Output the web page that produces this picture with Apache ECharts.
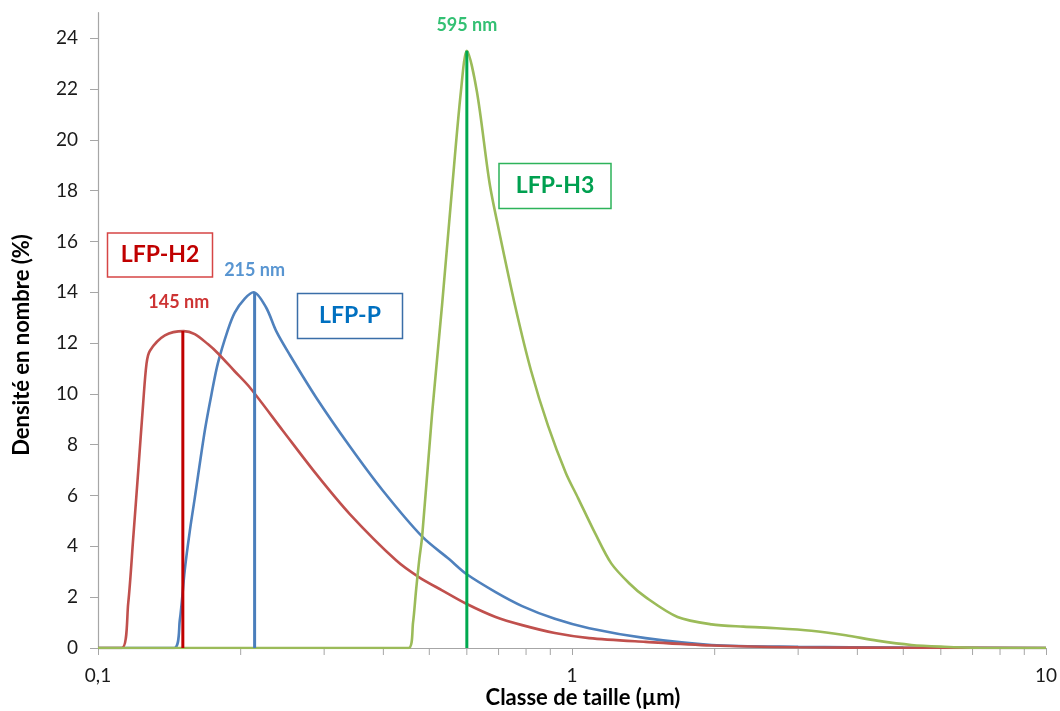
<!DOCTYPE html>
<html>
<head>
<meta charset="utf-8">
<script src="https://cdn.jsdelivr.net/npm/echarts@6/dist/echarts.min.js"></script>
<style>
html,body{margin:0;padding:0;background:#fff;}
#chart{width:1060px;height:711px;}
</style>
</head>
<body>
<div id="chart"></div>
<script>
// ---- data ----
const h2Sizes  = [0.1, 0.1122, 0.1158, 0.1187, 0.1216, 0.1245, 0.1266, 0.1287, 0.1384, 0.1517, 0.160, 0.1705, 0.179, 0.194, 0.2091, 0.2455, 0.2885, 0.3394, 0.4254, 0.476, 0.532, 0.60, 0.69, 0.785, 0.92, 1.087, 1.43, 1.97, 3, 5, 10];
const h2Values = [0, 0, 1.76, 4.36, 6.98, 9.6, 11.2, 11.7, 12.3, 12.47, 12.35, 11.96, 11.6, 10.9, 10.25, 8.55, 6.85, 5.28, 3.45, 2.78, 2.27, 1.73, 1.22, 0.9, 0.59, 0.39, 0.24, 0.1, 0.03, 0.01, 0];

const pSizes  = [0.1, 0.1447, 0.1488, 0.1524, 0.1562, 0.160, 0.168, 0.1736, 0.179, 0.1878, 0.1943, 0.204, 0.213, 0.2263, 0.2377, 0.2536, 0.2885, 0.3394, 0.3988, 0.4838, 0.5503, 0.60, 0.69, 0.785, 0.92, 1.087, 1.43, 1.97, 3, 5, 10];
const pValues = [0, 0, 1.1, 3.06, 4.6, 5.9, 8.55, 10.0, 11.2, 12.5, 13.2, 13.75, 14.0, 13.4, 12.47, 11.55, 9.86, 7.95, 6.2, 4.37, 3.5, 2.9, 2.2, 1.65, 1.15, 0.78, 0.39, 0.12, 0.05, 0.02, 0];

const h3Sizes  = [0.1, 0.452, 0.462, 0.469, 0.476, 0.483, 0.5067, 0.532, 0.558, 0.583, 0.60, 0.63, 0.67, 0.70, 0.76, 0.82, 0.89, 0.97, 1.03, 1.12, 1.21, 1.32, 1.43, 1.67, 1.97, 2.3, 2.7, 3.2, 3.78, 4.4, 5.2, 6.1, 7.2, 10];
const h3Values = [0, 0, 1.0, 2.3, 3.45, 4.4, 9.2, 13.5, 18.0, 21.9, 23.5, 21.9, 18.3, 16.5, 13.4, 10.9, 8.75, 6.9, 5.9, 4.5, 3.33, 2.55, 2.0, 1.22, 0.93, 0.84, 0.78, 0.68, 0.5, 0.29, 0.12, 0.05, 0.01, 0];

const peakSizes   = [0.151, 0.214, 0.60];
const peakHeights = [12.47, 14.0, 23.5];
const peakLabels  = ['145 nm', '215 nm', '595 nm'];

const seriesNames = ['LFP-H2', 'LFP-P', 'LFP-H3'];
const minorTickValues = [0.2,0.3,0.4,0.5,0.6,0.7,0.8,0.9,2,3,4,5,6,7,8,9];
const yTicks = {min: 0, max: 25, interval: 2};

// ---- styles ----
const curveColors = ['#C0504D', '#4F81BD', '#9BBB59'];
const peakColors  = ['#C00000', '#4A7EBB', '#00A94F'];
const labelColors = ['#C00000', '#2E7BC6', '#00B050'];
const boxText     = ['#C00000', '#0070C0', '#00A050'];
const boxBorder   = ['#D64545', '#3A6EA8', '#2DB35A'];
const FONT = 'Lato, "Open Sans", sans-serif';

const zip = (a, b) => a.map((v, i) => [v, b[i]]);

const chart = echarts.init(document.getElementById('chart'));

const curves = [
  {name: seriesNames[1], data: zip(pSizes, pValues), color: curveColors[1], z: 2},
  {name: seriesNames[0], data: zip(h2Sizes, h2Values), color: curveColors[0], z: 3},
  {name: seriesNames[2], data: zip(h3Sizes, h3Values), color: curveColors[2], z: 4}
].map(c => ({
  type: 'line', name: c.name, data: c.data, smooth: 0.3,
  symbol: 'none', z: c.z, silent: true,
  lineStyle: {color: c.color, width: 2.6}
}));

const peakLines = peakSizes.map((s, i) => ({
  type: 'line', name: peakLabels[i], data: [[s, 0], [s, peakHeights[i]]],
  symbol: 'none', z: 6, silent: true,
  lineStyle: {color: peakColors[i], width: 3}
}));

const peakLabelSeries = {
  type: 'scatter', z: 7, silent: true, symbolSize: 1,
  itemStyle: {color: 'transparent'},
  data: peakSizes.map((s, i) => ({
    value: [s, peakHeights[i]],
    label: {
      show: true, position: 'top', formatter: peakLabels[i],
      distance: [19, 13, 16][i], offset: i === 0 ? [-4, 0] : [0, 0],
      color: labelColors[i], fontFamily: FONT, fontWeight: 'bold', fontSize: 18
    }
  }))
};

const minorTicks = {
  type: 'custom', z: 1, silent: true, clip: false,
  data: minorTickValues.map(v => [v, 0]),
  renderItem: function (params, api) {
    const p = api.coord([api.value(0), 0]);
    return {type: 'line', shape: {x1: p[0], y1: p[1], x2: p[0], y2: p[1] + 7},
            style: {stroke: '#A6A6A6', lineWidth: 1}};
  }
};

const boxes = [
  {text: seriesNames[0], cx: 160, cy: 255, w: 105, h: 44},
  {text: seriesNames[1], cx: 350, cy: 316, w: 105, h: 45},
  {text: seriesNames[2], cx: 555, cy: 186, w: 112, h: 45}
];
const graphics = [];
boxes.forEach((b, i) => {
  graphics.push({type: 'rect', z: 10, shape: {x: b.cx - b.w / 2, y: b.cy - b.h / 2, width: b.w, height: b.h},
    style: {fill: '#fff', stroke: boxBorder[i], lineWidth: 1.5}});
  graphics.push({type: 'text', z: 11, x: b.cx, y: b.cy,
    style: {text: b.text, fill: boxText[i], font: 'bold 23px ' + FONT, align: 'center', verticalAlign: 'middle'}});
});
graphics.push({type: 'text', x: 22, y: 345, rotation: Math.PI / 2,
  style: {text: 'Densité en nombre (%)', fill: '#000', font: 'bold 22px ' + FONT, align: 'center', verticalAlign: 'middle'}});
graphics.push({type: 'text', x: 583, y: 698,
  style: {text: 'Classe de taille (µm)', fill: '#000', font: 'bold 22px ' + FONT, align: 'center', verticalAlign: 'middle'}});

chart.setOption({
  animation: false,
  backgroundColor: '#fff',
  grid: {left: 98, right: 12, top: 12.7, bottom: 63, containLabel: false},
  xAxis: {
    type: 'log', logBase: 10, min: 0.1, max: 10,
    axisLine: {show: true, lineStyle: {color: '#A6A6A6', width: 1.2}},
    axisTick: {show: true, length: 7, inside: false, lineStyle: {color: '#A6A6A6'}},
    minorTick: {show: false},
    splitLine: {show: false},
    axisLabel: {margin: 18, color: '#1a1a1a', fontFamily: FONT, fontSize: 19,
      formatter: v => String(+v.toPrecision(6)).replace('.', ',')}
  },
  yAxis: {
    type: 'value', min: yTicks.min, max: yTicks.max, interval: yTicks.interval,
    axisLine: {show: true, lineStyle: {color: '#A6A6A6', width: 1.2}},
    axisTick: {show: true, length: 8, inside: false, lineStyle: {color: '#A6A6A6'}},
    splitLine: {show: false},
    axisLabel: {margin: 20, color: '#1a1a1a', fontFamily: FONT, fontSize: 19, showMaxLabel: false}
  },
  series: [minorTicks].concat(curves, peakLines, [peakLabelSeries]),
  graphic: graphics
});
</script>
</body>
</html>
